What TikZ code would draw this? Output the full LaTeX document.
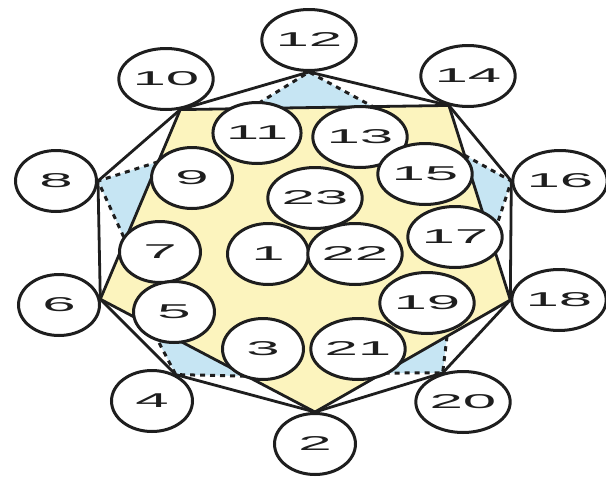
\documentclass[tikz,border=0pt]{standalone}
\usepackage{graphicx}
\usepackage{fontspec}
\setmainfont{Liberation Sans}
\usetikzlibrary{shapes.geometric,calc,backgrounds}
\definecolor{penta}{RGB}{252,244,190}
\definecolor{tri}{RGB}{198,229,243}
\definecolor{ink}{RGB}{30,30,30}
\newcommand\numtxt[1]{\scalebox{3}[1]{#1}}
\begin{document}
\begin{tikzpicture}[x=1pt,y=-1pt,
  ball/.style={ellipse,draw=ink,line width=3pt,fill=white,minimum width=81pt,minimum height=61pt,inner sep=0pt,font=\fontsize{20}{20}\selectfont,text=ink},
  edgeline/.style={draw=ink,line width=2.8pt,line join=round},
  dashline/.style={draw=ink,line width=3pt,dash pattern=on 5pt off 5pt},
  blue/.style={fill=tri},
  yellow/.style={fill=penta}]
\useasboundingbox (0,0) rectangle (606,480);
% outer ring
\node[ball] (n12) at (309,40) {\numtxt{12}};
\node[ball] (n10) at (166,79) {\numtxt{10}};
\node[ball] (n14) at (468,76) {\numtxt{14}};
\node[ball] (n8) at (56,181) {\numtxt{8}};
\node[ball] (n16) at (560,181) {\numtxt{16}};
\node[ball] (n6) at (59,305) {\numtxt{6}};
\node[ball] (n18) at (559,300) {\numtxt{18}};
\node[ball] (n4) at (152,401) {\numtxt{4}};
\node[ball] (n20) at (463,402) {\numtxt{20}};
\node[ball] (n2) at (315,444) {\numtxt{2}};
% inner
\node[ball] (n11) at (257,133) {\numtxt{11}};
\node[ball] (n13) at (360,137) {\numtxt{13}};
\node[ball] (n9) at (192,178) {\numtxt{9}};
\node[ball] (n15) at (425,174) {\numtxt{15}};
\node[ball] (n23) at (315,198) {\numtxt{23}};
\node[ball] (n7) at (160,252) {\numtxt{7}};
\node[ball] (n1) at (268,254) {\numtxt{1}};
\node[ball] (n22) at (355,254) {\numtxt{22}};
\node[ball] (n17) at (455,237) {\numtxt{17}};
\node[ball] (n5) at (174,312) {\numtxt{5}};
\node[ball] (n19) at (427,303) {\numtxt{19}};
\node[ball] (n3) at (263,349) {\numtxt{3}};
\node[ball] (n21) at (358,349) {\numtxt{21}};
% pentagon vertices and outer touch points
\coordinate (p10) at (n10.-65);
\coordinate (p14) at (n14.-123);
\coordinate (p18) at (n18.west);
\coordinate (p2) at (n2.north);
\coordinate (p6) at (n6.8);
\coordinate (t12) at (n12.south);
\coordinate (r16) at (n16.west);
\coordinate (t20) at (n20.125);
\coordinate (t4) at (n4.48);
\coordinate (l8) at (n8.east);
% blue triangle base points on pentagon edges
\coordinate (b12a) at ($(p10)!0.26!(p14)$);
\coordinate (b12b) at ($(p10)!0.717!(p14)$);
\coordinate (b8a) at ($(p10)!0.275!(p6)$);
\coordinate (b8b) at ($(p10)!0.689!(p6)$);
\coordinate (b16a) at ($(p14)!0.256!(p18)$);
\coordinate (b16b) at ($(p14)!0.697!(p18)$);
\coordinate (b4a) at ($(p6)!0.231!(p2)$);
\coordinate (b4b) at ($(p6)!0.682!(p2)$);
\coordinate (b20a) at ($(p18)!0.324!(p2)$);
\coordinate (b20b) at ($(p18)!0.652!(p2)$);
\begin{pgfonlayer}{background}
\fill[yellow] (p10)--(p14)--(p18)--(p2)--(p6)--cycle;
\fill[blue] (t12)--(b12a)--(b12b)--cycle;
\fill[blue] (l8)--(b8a)--(b8b)--cycle;
\fill[blue] (r16)--(b16a)--(b16b)--cycle;
\fill[blue] (t4)--(b4a)--(b4b)--cycle;
\fill[blue] (t20)--(b20a)--(b20b)--cycle;
\draw[dashline] (b12a)--(t12)--(b12b);
\draw[dashline] (b8a)--(l8)--(b8b);
\draw[dashline] (b16a)--(r16)--(b16b);
\draw[dashline] (b4a)--(t4)--(b4b);
\draw[dashline] (b20a)--(t20)--(b20b);
\draw[edgeline] (p10)--(p14)--(p18)--(p2)--(p6)--cycle;
\draw[edgeline] (p10)--(t12)--(p14)--(r16)--(p18)--(t20)--(p2)--(t4)--(p6)--(l8)--cycle;
\end{pgfonlayer}
\end{tikzpicture}
\end{document}
